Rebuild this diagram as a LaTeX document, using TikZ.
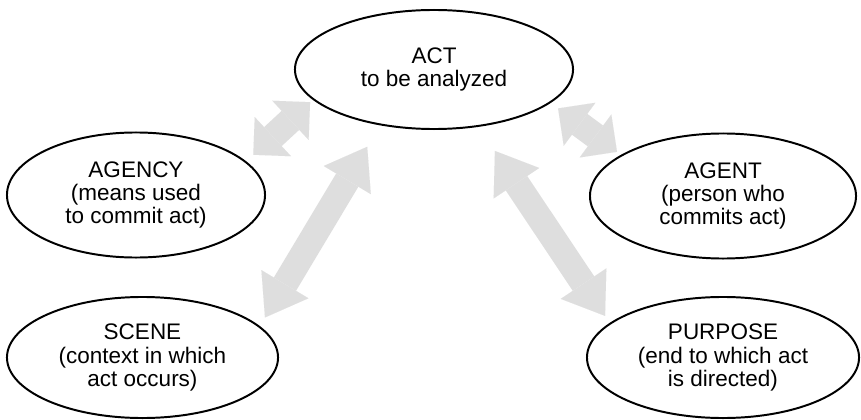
\documentclass[tikz,border=0pt]{standalone}
\usepackage{fontspec}
\setmainfont{Liberation Sans}
\usetikzlibrary{shapes.geometric,arrows.meta}

\definecolor{linkgray}{gray}{0.87}
\tikzstyle{part}=[shape=ellipse,draw=black,line width=1.4pt,align=center,inner sep=0pt,font=\fontsize{16}{16.5}\selectfont]
\tikzstyle{link}=[draw=linkgray,line width=18.4pt,
  {Triangle[length=27.6pt,width=39pt,line width=0.01pt]}-{Triangle[length=27.6pt,width=39pt,line width=0.01pt]}]
\tikzstyle{shortlink}=[draw=linkgray,line width=18.4pt,
  {Triangle[length=19pt,width=38pt,line width=0.01pt]}-{Triangle[length=19pt,width=38pt,line width=0.01pt]}]

\begin{document}
\begin{tikzpicture}[x=0.025cm,y=-0.025cm]
\useasboundingbox (0,0) rectangle (861,420);
% top
\node[part,minimum width=6.95cm,minimum height=2.975cm] (act) at (434,69.5) {ACT\\to be analyzed};
% left side
\node[part,minimum width=6.45cm,minimum height=3.125cm] (agency) at (136,195) {AGENCY\\(means used\\to commit act)};
\node[part,minimum width=6.775cm,minimum height=3.025cm] (scene) at (142.5,357.5) {SCENE\\(context in which\\act occurs)};
% right side
\node[part,minimum width=6.65cm,minimum height=3.125cm] (agent) at (723,196) {AGENT\\(person who\\commits act)};
\node[part,minimum width=6.8cm,minimum height=3.025cm] (purpose) at (723,357.5) {PURPOSE\\(end to which act\\is directed)};
% links
\draw[shortlink,shorten <=0.09cm,shorten >=0.24cm] (act.194.8) -- (agency.17.2);
\draw[link,shorten <=0.625cm,shorten >=0.25cm] (act.226.8) -- (scene.15.5);
\draw[link,shorten <=0.725cm,shorten >=0.21cm] (act.308.7) -- (purpose.163.6);
\draw[shortlink,shorten <=0.23cm,shorten >=0.125cm] (act.344.1) -- (agent.158.6);
\end{tikzpicture}
\end{document}
